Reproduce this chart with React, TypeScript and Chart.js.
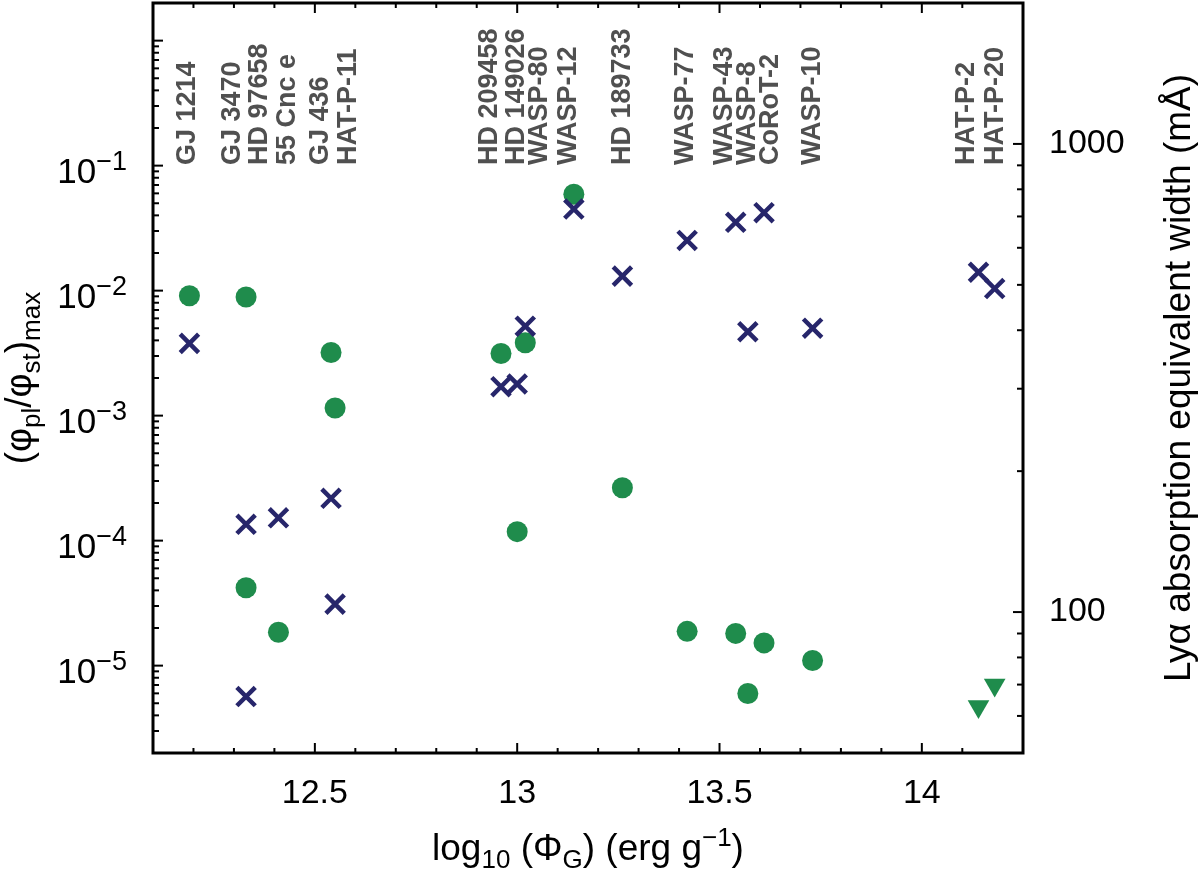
import { useEffect, useRef } from 'react'
import { Chart, registerables } from 'chart.js'

Chart.register(...registerables)

const FONT = '"Liberation Sans", Arial, Helvetica, sans-serif'
const GREEN = '#1f8c4c'
const NAVY = '#27266b'

const planets = [
  'GJ 1214', 'GJ 3470', 'HD 97658', '55 Cnc e', 'GJ 436', 'HAT-P-11',
  'HD 209458', 'HD 149026', 'WASP-80', 'WASP-12', 'HD 189733', 'WASP-77',
  'WASP-43', 'WASP-8', 'CoRoT-2', 'WASP-10', 'HAT-P-2', 'HAT-P-20',
]
// log10 of gravitational potential
const logPhiG = [
  12.19, 12.33, 12.33, 12.41, 12.54, 12.55,
  12.96, 13.0, 13.02, 13.14, 13.26, 13.42,
  13.54, 13.57, 13.61, 13.73, 14.14, 14.18,
]
// (phi_pl / phi_st)_max, green circles
const phiRatio = [
  9.1e-3, 8.9e-3, 4.2e-5, 1.85e-5, 3.2e-3, 1.15e-3,
  3.14e-3, 1.18e-4, 3.83e-3, 5.9e-2, 2.65e-4, 1.88e-5,
  1.81e-5, 5.98e-6, 1.52e-5, 1.1e-5, null, null,
]
// upper limits, green triangles
const phiUpper = [
  null, null, null, null, null, null,
  null, null, null, null, null, null,
  null, null, null, null, 4.72e-6, 7.0e-6,
]
// Ly-alpha absorption equivalent width (mA), crosses
const lyaEW = [
  375, 154, 66, 159, 175, 104,
  303, 307, 408, 726, 522, 622,
  680, 397, 713, 404, 532, 491,
]
// where each planet name sits along x
const labelX = [
  12.18, 12.29, 12.356, 12.426, 12.507, 12.578,
  12.926, 12.992, 13.049, 13.12, 13.255, 13.411,
  13.505, 13.563, 13.62, 13.723, 14.105, 14.175,
]

const xMajor = [12.5, 13, 13.5, 14]
const leftMajor = [1e-1, 1e-2, 1e-3, 1e-4, 1e-5]
const leftExp = ['−1', '−2', '−3', '−4', '−5']
const rightMajor = [100, 1000]

type Seg = { t: string; s: number; dy: number }

function drawRich(ctx: CanvasRenderingContext2D, segs: Seg[], x: number, y: number, align: 'left' | 'center' | 'right') {
  let total = 0
  for (const seg of segs) {
    ctx.font = `${seg.s}px ${FONT}`
    total += ctx.measureText(seg.t).width
  }
  let cx = align === 'center' ? x - total / 2 : align === 'right' ? x - total : x
  ctx.textAlign = 'left'
  ctx.textBaseline = 'alphabetic'
  for (const seg of segs) {
    ctx.font = `${seg.s}px ${FONT}`
    ctx.fillText(seg.t, cx, y + seg.dy)
    cx += ctx.measureText(seg.t).width
  }
}

const noPad = (s: any) => {
  s.paddingTop = 0
  s.paddingBottom = 0
  s.paddingLeft = 0
  s.paddingRight = 0
}

const framePlugin = {
  id: 'frame',
  afterDraw(chart: Chart) {
    const { ctx, chartArea: a } = chart
    const sx = chart.scales.x
    const sy = chart.scales.y
    const sy2 = chart.scales.y2
    ctx.save()
    ctx.strokeStyle = '#000'
    ctx.fillStyle = '#000'

    // inward ticks
    ctx.lineWidth = 2
    const tick = (x1: number, y1: number, x2: number, y2: number) => {
      ctx.beginPath(); ctx.moveTo(x1, y1); ctx.lineTo(x2, y2); ctx.stroke()
    }
    for (let i = 2; i <= 42; i++) {
      const v = 12 + i * 0.05
      if (v < 12.15 || v > 14.22) continue
      const major = Math.abs(v * 2 - Math.round(v * 2)) < 1e-6
      if (!major && Math.abs(v * 10 - Math.round(v * 10)) > 1e-6) continue
      const px = sx.getPixelForValue(v)
      const len = major ? 10 : 5
      tick(px, a.bottom, px, a.bottom - len)
      tick(px, a.top, px, a.top + len)
    }
    for (let k = -6; k <= 0; k++) {
      for (let m = 1; m <= 9; m++) {
        const v = m * Math.pow(10, k)
        if (v < 2.01e-6 || v > 1.99) continue
        const py = sy.getPixelForValue(v)
        tick(a.left, py, a.left + (m === 1 ? 10 : 6), py)
      }
    }
    for (let k = 1; k <= 3; k++) {
      for (let m = 1; m <= 9; m++) {
        const v = m * Math.pow(10, k)
        if (v <= 50 || v >= 2000) continue
        const py = sy2.getPixelForValue(v)
        tick(a.right, py, a.right - (m === 1 ? 10 : 6), py)
      }
    }

    // frame
    ctx.lineWidth = 3
    ctx.strokeRect(a.left, a.top, a.right - a.left, a.bottom - a.top)

    // left tick labels with superscripts
    leftMajor.forEach((v, i) => {
      const py = sy.getPixelForValue(v)
      drawRich(ctx, [{ t: '10', s: 35, dy: 0 }, { t: leftExp[i], s: 27, dy: -13 }], a.left - 26, py + 17, 'right')
    })

    // x title
    drawRich(ctx, [
      { t: 'log', s: 37, dy: 0 }, { t: '10', s: 26, dy: 8 },
      { t: ' (Φ', s: 37, dy: 0 }, { t: 'G', s: 26, dy: 8 },
      { t: ') (erg g', s: 37, dy: 0 }, { t: '−1', s: 26, dy: -14 },
      { t: ')', s: 37, dy: 0 },
    ], (a.left + a.right) / 2, 860, 'center')

    // left title
    ctx.save()
    ctx.translate(31, (a.top + a.bottom) / 2)
    ctx.rotate(-Math.PI / 2)
    drawRich(ctx, [
      { t: '(φ', s: 37, dy: 0 }, { t: 'pl', s: 26, dy: 9 },
      { t: '/φ', s: 37, dy: 0 }, { t: 'st', s: 26, dy: 9 },
      { t: ')', s: 37, dy: 0 }, { t: 'max', s: 26, dy: 9 },
    ], 0, 0, 'center')
    ctx.restore()

    // right title
    ctx.save()
    ctx.translate(1190, (a.top + a.bottom) / 2)
    ctx.rotate(-Math.PI / 2)
    drawRich(ctx, [{ t: 'Lyα absorption equivalent width (mÅ)', s: 37, dy: 0 }], 0, 0, 'center')
    ctx.restore()

    // planet names
    ctx.fillStyle = '#505050'
    ctx.font = `bold 27px ${FONT}`
    ctx.textAlign = 'left'
    ctx.textBaseline = 'alphabetic'
    planets.forEach((name, i) => {
      const px = sx.getPixelForValue(labelX[i])
      ctx.save()
      ctx.translate(px + 10, 165)
      ctx.rotate(-Math.PI / 2)
      ctx.fillText(name, 0, 0)
      ctx.restore()
    })
    ctx.restore()
  },
}

export default function App() {
  const canvasRef = useRef<HTMLCanvasElement>(null)

  useEffect(() => {
    if (!canvasRef.current) return
    const pts = (ys: (number | null)[]) =>
      logPhiG.map((x, i) => ({ x, y: ys[i] })).filter((p) => p.y !== null) as { x: number; y: number }[]

    const chart = new Chart(canvasRef.current, {
      type: 'scatter',
      data: {
        datasets: [
          {
            label: 'Lyα EW',
            data: pts(lyaEW),
            yAxisID: 'y2',
            pointStyle: 'crossRot',
            pointRadius: 13,
            borderColor: NAVY,
            backgroundColor: NAVY,
            borderWidth: 4.5,
          },
          {
            label: 'upper limit',
            data: pts(phiUpper),
            yAxisID: 'y',
            pointStyle: 'triangle',
            rotation: 180,
            pointRadius: 12.5,
            backgroundColor: GREEN,
            borderWidth: 0,
          },
          {
            label: 'phi ratio',
            data: pts(phiRatio),
            yAxisID: 'y',
            pointStyle: 'circle',
            pointRadius: 10.5,
            backgroundColor: GREEN,
            borderWidth: 0,
          },
        ],
      },
      options: {
        animation: false,
        responsive: false,
        layout: { autoPadding: false, padding: { top: 3, left: 0, right: 0, bottom: 0 } },
        plugins: { legend: { display: false }, tooltip: { enabled: false } },
        scales: {
          x: {
            type: 'linear',
            min: 12.1,
            max: 14.25,
            grid: { display: false, drawTicks: false },
            border: { display: false },
            ticks: { font: { family: FONT, size: 34 }, color: '#000', padding: 20, callback: (v) => String(v) },
            afterBuildTicks: (s) => { s.ticks = xMajor.map((value) => ({ value })) },
            afterFit: (s) => { s.height = 119; noPad(s) },
          },
          y: {
            type: 'logarithmic',
            position: 'left',
            min: 2e-6,
            max: 2,
            grid: { display: false, drawTicks: false },
            border: { display: false },
            ticks: { display: false },
            afterFit: (s) => { s.width = 153; noPad(s) },
          },
          y2: {
            type: 'logarithmic',
            position: 'right',
            min: 50,
            max: 2000,
            grid: { display: false, drawTicks: false },
            border: { display: false },
            ticks: { font: { family: FONT, size: 34 }, color: '#000', padding: 26, callback: (v) => String(v) },
            afterBuildTicks: (s) => { s.ticks = rightMajor.map((value) => ({ value })) },
            afterFit: (s) => { s.width = 177; noPad(s) },
          },
        },
      },
      plugins: [framePlugin],
    })

    return () => { chart.destroy() }
  }, [])

  return (
    <div style={{ position: 'absolute', left: 0, top: 0, width: 1200, height: 872, background: '#fff' }}>
      <canvas ref={canvasRef} width={1200} height={872} style={{ display: 'block' }} />
    </div>
  )
}
